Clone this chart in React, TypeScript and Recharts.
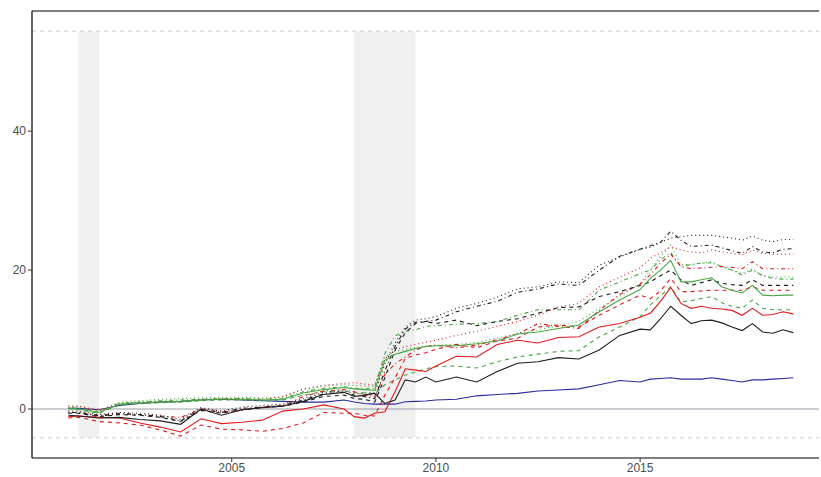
import React from "react";
import {
  LineChart, Line, XAxis, YAxis, ReferenceArea, ReferenceLine
} from "recharts";

// quarter / half-year dates
const years = [
  2001, 2001.25, 2001.75, 2002.25, 2002.75, 2003.25, 2003.75, 2004.25, 2004.75, 2005.25,
  2005.75, 2006.25, 2006.75, 2007.25, 2007.75, 2008, 2008.25, 2008.5, 2008.75, 2009,
  2009.25, 2009.5, 2009.75, 2010, 2010.5, 2011, 2011.5, 2012, 2012.5, 2013,
  2013.5, 2014, 2014.5, 2015, 2015.25, 2015.5, 2015.75, 2016, 2016.25, 2016.5,
  2016.75, 2017, 2017.25, 2017.5, 2017.75, 2018, 2018.25, 2018.5, 2018.75,
];

const blackSolid = [
  -0.9, -1.0, -1.3, -1.2, -1.5, -1.7, -2.2, 0.0, -0.9, -0.1,
  0.2, 0.4, 1.1, 2.1, 2.4, 1.8, 2.0, 2.25, 0.8, 1.3,
  4.2, 3.9, 4.6, 3.9, 4.6, 3.9, 5.4, 6.6, 6.8, 7.4,
  7.2, 8.5, 10.6, 11.5, 11.4, 13.0, 14.8, 13.5, 12.3, 12.7,
  12.8, 12.4, 11.8, 11.3, 12.3, 11.1, 10.9, 11.4, 11.0,
];
const blackDashed = [
  -0.6, -0.6, -1.1, -0.8, -0.9, -1.2, -1.8, -0.2, -0.6, -0.1,
  0.2, 0.4, 1.0, 1.8, 2.0, 1.5, 1.4, 1.0, 4.5, 8.5,
  11.0, 12.3, 12.6, 12.3, 12.8, 12.0, 12.6, 13.0, 13.8, 14.6,
  14.7, 16.2, 16.9, 17.8, 18.3, 19.2, 20.0, 18.6, 17.8, 18.2,
  18.6, 18.1, 17.9, 17.8, 18.6, 17.8, 17.8, 17.8, 17.8,
];
const blackDotted = [
  -0.3, -0.3, -0.8, -0.5, -0.6, -0.9, -1.5, 0.2, -0.3, 0.3,
  0.5, 0.7, 1.5, 2.4, 2.6, 2.2, 2.3, 2.3, 6.5, 9.5,
  11.8, 12.8, 13.0, 13.3, 14.5, 15.2, 16.1, 17.3, 17.6, 18.3,
  18.2, 20.7, 21.9, 23.0, 23.3, 24.0, 24.6, 24.8, 25.0, 25.0,
  25.0, 24.8, 24.6, 24.3, 24.9, 24.3, 24.1, 24.4, 24.4,
];
const blackDotDash = [
  -0.5, -0.5, -1.0, -0.7, -0.8, -1.1, -1.7, 0.0, -0.5, 0.1,
  0.3, 0.5, 1.3, 2.2, 2.4, 2.0, 1.8, 1.5, 5.5, 9.0,
  11.5, 12.5, 12.6, 12.8, 14.0, 14.8, 15.5, 16.8, 17.3, 18.0,
  17.8, 20.0, 22.0, 23.0, 23.5, 24.0, 25.6, 24.3, 23.4, 23.5,
  23.6, 23.2, 22.8, 22.4, 23.4, 22.6, 22.5, 23.0, 23.1,
];
const redSolid = [
  -1.1, -1.0, -1.2, -1.3, -2.0, -2.6, -3.3, -1.4, -2.1, -1.9,
  -1.6, -0.3, 0.0, 0.6, 0.0, -1.1, -1.3, -0.6, -0.4, 2.5,
  5.8, 5.6, 5.4, 6.2, 7.6, 7.5, 9.3, 9.9, 9.5, 10.3,
  10.4, 11.8, 12.3, 13.2, 13.8, 15.5, 17.5, 15.2, 14.5, 14.8,
  14.5, 14.4, 14.2, 13.5, 14.5, 13.5, 13.6, 14.0, 13.7,
];
const redDashed = [
  -1.3, -1.2, -1.8, -2.0, -2.3, -3.0, -3.9, -2.3, -2.9, -3.0,
  -3.2, -2.8, -2.0, -0.5, -0.6, -0.6, -0.9, -1.0, 2.0, 4.5,
  7.3, 7.8, 8.1, 8.6, 9.3, 8.8, 9.8, 10.2, 11.8, 12.1,
  11.8, 13.5, 15.0, 16.4, 15.9, 17.0, 18.8, 16.9, 16.9, 17.0,
  17.1, 17.1, 17.1, 17.1, 17.6, 17.1, 17.1, 17.1, 17.1,
];
const redDotted = [
  0.3, 0.4, -0.2, 0.8, 1.0, 1.1, 1.0, 1.4, 1.5, 1.5,
  1.4, 1.8, 2.9, 3.4, 3.7, 3.8, 3.6, 3.45, 7.2, 8.5,
  9.0, 9.3, 9.6, 9.9, 10.6, 11.2, 11.9, 12.6, 13.5, 14.7,
  15.2, 17.6, 19.0, 20.3, 21.7, 22.5, 23.35, 22.9, 22.6, 22.5,
  22.9, 22.6, 22.4, 22.2, 22.9, 22.4, 22.3, 22.3, 22.3,
];
const redDotDash = [
  -0.5, -0.5, -0.9, -0.6, -0.8, -1.0, -1.2, 0.0, -0.4, -0.2,
  0.3, 0.5, 1.8, 2.6, 2.8, 2.5, 2.0, 1.8, 5.0, 6.5,
  7.5, 8.5, 9.0, 9.2, 8.8, 9.2, 10.0, 10.8, 12.3, 11.9,
  11.6, 14.2, 16.5, 18.0, 19.3, 21.0, 22.3, 20.5, 20.2, 20.3,
  20.4, 20.5, 20.4, 20.2, 21.2, 20.2, 20.2, 20.2, 20.2,
];
const greenSolid = [
  0.1, 0.0, -0.5, 0.7, 0.9, 1.0, 1.1, 1.3, 1.4, 1.4,
  1.3, 1.4, 2.3, 2.8, 3.1, 2.9, 2.8, 2.7, 7.0, 7.9,
  8.3, 8.7, 9.0, 9.1, 9.1, 9.4, 9.8, 10.8, 11.1, 11.6,
  12.1, 14.0, 15.7, 17.2, 18.8, 20.0, 21.4, 18.3, 18.3, 18.6,
  18.9, 17.6, 17.1, 16.7, 17.8, 16.4, 16.3, 16.4, 16.4,
];
const greenDashed = [
  0.0, -0.1, -0.6, 0.6, 0.8, 0.9, 1.0, 1.2, 1.3, 1.3,
  1.2, 1.3, 2.0, 2.5, 2.6, 2.4, 2.3, 2.2, 3.5, 4.2,
  4.9, 5.3, 5.8, 6.1, 6.2, 5.9, 6.8, 7.5, 7.9, 8.3,
  8.4, 10.4, 11.8, 13.3, 15.0, 16.3, 17.6, 15.4, 15.6, 15.9,
  16.2, 15.3, 14.8, 14.5, 15.7, 14.5, 14.3, 14.3, 14.3,
];
const greenDotted = [
  0.5, 0.4, -0.2, 1.0, 1.2, 1.4, 1.5, 1.6, 1.7, 1.7,
  1.6, 1.7, 2.8, 3.3, 3.5, 3.4, 3.3, 3.3, 7.5, 8.3,
  8.6, 8.9, 9.1, 9.2, 9.3, 9.6, 10.2, 10.9, 11.4, 12.0,
  12.6, 14.5, 16.2, 18.0, 20.0, 22.0, 23.6, 20.8, 20.8, 21.0,
  21.2, 20.5, 20.0, 19.5, 20.2, 19.2, 19.0, 19.0, 19.0,
];
const greenDotDash = [
  0.2, 0.1, -0.4, 0.8, 1.0, 1.2, 1.3, 1.4, 1.5, 1.5,
  1.4, 1.5, 2.5, 3.0, 3.2, 3.0, 2.9, 3.0, 8.0, 10.5,
  11.2, 11.4, 11.9, 12.0, 12.2, 12.3, 12.6, 13.5, 14.3, 14.3,
  14.3, 17.1, 18.3, 19.5, 20.0, 21.5, 22.5, 20.5, 20.8, 21.0,
  21.05, 20.5, 20.0, 19.3, 20.0, 19.2, 18.8, 18.7, 18.7,
];
const blueSolid = [
  0.1, 0.1, -0.1, 0.5, 0.8, 1.0, 1.1, 1.3, 1.4, 1.3,
  1.2, 1.1, 1.0, 1.0, 1.3, 1.0, 0.8, 0.7, 0.7, 0.7,
  1.05, 1.1, 1.15, 1.3, 1.4, 1.9, 2.1, 2.25, 2.6, 2.75,
  2.9, 3.5, 4.1, 3.9, 4.3, 4.4, 4.5, 4.3, 4.3, 4.3,
  4.5, 4.3, 4.1, 3.9, 4.2, 4.2, 4.3, 4.4, 4.5,
];

const recessions = [
  [2001.25, 2001.75],
  [2008.0, 2009.5],
];
const bandLow = -4.15;
const bandHigh = 54.4;

const BLACK = "#1e1e1e";
const RED = "#e0191b";
const GREEN = "#45a640";
const BLUE = "#2b2b9c";

const DASHED = "4 4";
const DOTTED = "1 3";
const DOTDASH = "1 3 4 3";

const series = [
  { key: "blue", values: blueSolid, color: BLUE, dash: undefined },
  { key: "gdash", values: greenDashed, color: GREEN, dash: DASHED },
  { key: "gdot", values: greenDotted, color: GREEN, dash: DOTTED },
  { key: "gdd", values: greenDotDash, color: GREEN, dash: DOTDASH },
  { key: "rdash", values: redDashed, color: RED, dash: DASHED },
  { key: "rdot", values: redDotted, color: RED, dash: DOTTED },
  { key: "rdd", values: redDotDash, color: RED, dash: DOTDASH },
  { key: "bdash", values: blackDashed, color: BLACK, dash: DASHED },
  { key: "bdot", values: blackDotted, color: BLACK, dash: DOTTED },
  { key: "bdd", values: blackDotDash, color: BLACK, dash: DOTDASH },
  { key: "gs", values: greenSolid, color: GREEN, dash: undefined },
  { key: "rs", values: redSolid, color: RED, dash: undefined },
  { key: "bs", values: blackSolid, color: BLACK, dash: undefined },
];

const data = years.map((year, i) => {
  const row: Record<string, number> = { year };
  series.forEach((s) => { row[s.key] = s.values[i]; });
  return row;
});

const tickStyle = { fontSize: 12, fill: "#4d4d4d", fontFamily: "Liberation Sans, Arial, sans-serif" };

export default function App() {
  return (
    <div style={{ position: "absolute", left: 0, top: 0, background: "#fff" }}>
      <LineChart
        width={821}
        height={477}
        data={data}
        margin={{ top: 11, right: 2, bottom: 0, left: 0 }}
      >
        <XAxis
          dataKey="year"
          type="number"
          domain={[2000.11, 2019.38]}
          allowDataOverflow
          ticks={[2005, 2010, 2015]}
          height={19}
          tick={tickStyle}
          tickSize={4}
          tickMargin={1}
          axisLine={{ stroke: "#000", strokeWidth: 1.2 }}
          tickLine={{ stroke: "#333" }}
        />
        <YAxis
          type="number"
          domain={[-7.05, 57.3]}
          allowDataOverflow
          ticks={[0, 20, 40]}
          width={32}
          tick={tickStyle}
          tickSize={4}
          axisLine={{ stroke: "#000", strokeWidth: 1.2 }}
          tickLine={{ stroke: "#333" }}
        />
        {recessions.map(([a, b]) => (
          <ReferenceArea
            key={a}
            x1={a}
            x2={b}
            y1={bandLow}
            y2={bandHigh}
            fill="#f0f0f0"
            fillOpacity={1}
            stroke="none"
          />
        ))}
        <ReferenceLine y={bandHigh} stroke="#cccccc" strokeDasharray="4 4" />
        <ReferenceLine y={bandLow} stroke="#cccccc" strokeDasharray="4 4" />
        <ReferenceLine y={0} stroke="#9a9aa8" />
        <ReferenceLine y={57.3} stroke="#000" strokeWidth={1.2} />
        {series.map((s) => (
          <Line
            key={s.key}
            dataKey={s.key}
            type="linear"
            stroke={s.color}
            strokeWidth={1.1}
            strokeDasharray={s.dash}
            dot={false}
            activeDot={false}
            isAnimationActive={false}
          />
        ))}
      </LineChart>
    </div>
  );
}
